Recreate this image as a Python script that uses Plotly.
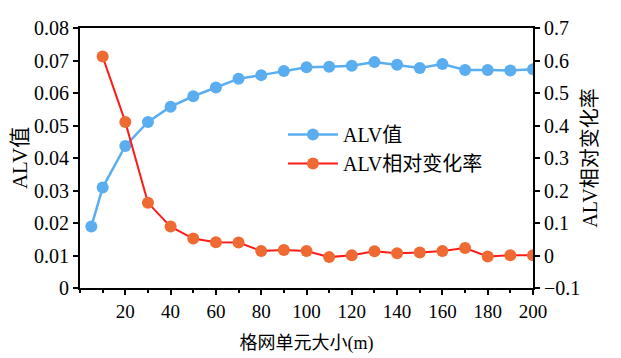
import plotly.graph_objects as go

x_blue = [5, 10, 20, 30, 40, 50, 60, 70, 80, 90, 100, 110, 120, 130, 140, 150, 160, 170, 180, 190, 200]
alv_value = [0.0189, 0.0309, 0.0437, 0.0511, 0.0558, 0.0590, 0.0617, 0.0644, 0.0655, 0.0668, 0.0679,
             0.0681, 0.0684, 0.0695, 0.0687, 0.0677, 0.0689, 0.0671, 0.0671, 0.0669, 0.0673]
x_red = [10, 20, 30, 40, 50, 60, 70, 80, 90, 100, 110, 120, 130, 140, 150, 160, 170, 180, 190, 200]
alv_rate = [0.612, 0.411, 0.162, 0.089, 0.052, 0.041, 0.040, 0.014, 0.017, 0.014, -0.005,
            0.001, 0.013, 0.007, 0.009, 0.014, 0.023, -0.003, 0.001, 0.001]

x_ticks = [20, 40, 60, 80, 100, 120, 140, 160, 180, 200]
y1_ticks = [0, 0.01, 0.02, 0.03, 0.04, 0.05, 0.06, 0.07, 0.08]
y1_labels = ["0", "0.01", "0.02", "0.03", "0.04", "0.05", "0.06", "0.07", "0.08"]
y2_ticks = [-0.1, 0, 0.1, 0.2, 0.3, 0.4, 0.5, 0.6, 0.7]
y2_labels = ["\u22120.1", "0", "0.1", "0.2", "0.3", "0.4", "0.5", "0.6", "0.7"]

FONT = '"Liberation Serif", "Times New Roman", "Noto Sans CJK SC", serif'

fig = go.Figure()
fig.add_trace(go.Scatter(
    x=x_blue, y=alv_value, name="ALV值", mode="lines+markers",
    line=dict(color="#5aaef0", width=2.5),
    marker=dict(color="#5aaef0", size=12),
    yaxis="y"))
fig.add_trace(go.Scatter(
    x=x_red, y=alv_rate, name="ALV相对变化率", mode="lines+markers",
    line=dict(color="#ff1a1a", width=2),
    marker=dict(color="#ef6a32", size=12),
    yaxis="y2"))

axis_common = dict(showline=True, linecolor="black", linewidth=2, ticks="outside",
                   ticklen=5, tickwidth=2, tickcolor="black", showgrid=False, zeroline=False,
                   automargin=False)

# page body adds an 8px offset; figure is sized to fit the 621x358 window
fig.update_layout(
    width=613, height=350,
    margin=dict(l=72, r=88, t=20, b=70),
    paper_bgcolor="white", plot_bgcolor="white",
    font=dict(family=FONT, size=19, color="black"),
    showlegend=True,
    legend=dict(x=0.448, y=0.665, xanchor="left", yanchor="top", bgcolor="rgba(0,0,0,0)",
                font=dict(family=FONT, size=20, color="black"), tracegroupgap=0,
                itemwidth=50),
    xaxis=dict(range=[0, 200], tickvals=x_ticks, mirror=True,
               tickfont=dict(family=FONT, size=19, color="black"),
               minor=dict(dtick=10, tick0=0, ticks="outside", ticklen=3, tickwidth=2, tickcolor="black"),
               title=dict(text="格网单元大小(m)", standoff=16, font=dict(family=FONT, size=18)),
               **axis_common),
    yaxis=dict(range=[0, 0.08], tickvals=y1_ticks, ticktext=y1_labels,
               tickfont=dict(family=FONT, size=20, color="black"),
               title=dict(text="ALV值", standoff=2, font=dict(family=FONT, size=21)),
               **axis_common),
    yaxis2=dict(range=[-0.1, 0.7], tickvals=y2_ticks, ticktext=y2_labels, overlaying="y", side="right",
                tickfont=dict(family=FONT, size=20, color="black"),
                title=dict(text="ALV相对变化率", standoff=4, font=dict(family=FONT, size=20)),
                **axis_common),
)

fig.write_html("out.html")
